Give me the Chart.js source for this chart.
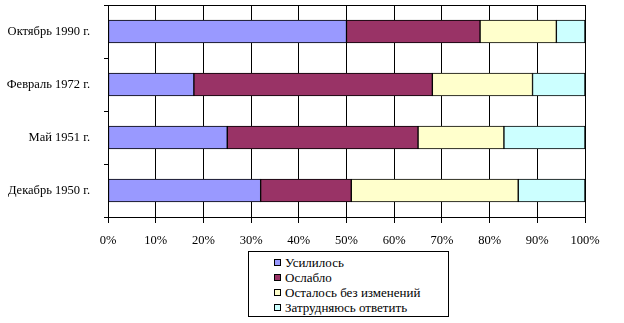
<!DOCTYPE html>
<html>
<head>
<meta charset="utf-8">
<script src="https://cdn.jsdelivr.net/npm/chart.js@4/dist/chart.umd.min.js"></script>
<style>
  html, body { margin: 0; padding: 0; background: #fff; }
  #wrap { position: relative; width: 624px; height: 323px; }
  #chart { position: absolute; left: 0; top: 0; }
  #legend {
    position: absolute; left: 248px; top: 251px; width: 201px; height: 66px;
    box-sizing: border-box; border: 1px solid #000; background: #fff;
    font-family: "Liberation Serif", "Times New Roman", serif; font-size: 13px; color: #000;
    padding-top: 3px;
  }
  #legend .item { position: relative; height: 15px; line-height: 15px; padding-left: 36px; white-space: nowrap; }
  #legend .swatch {
    position: absolute; left: 25px; top: 4px; width: 5px; height: 5px;
    border: 1px solid #000;
  }
</style>
</head>
<body>
<div id="wrap">
  <canvas id="chart" width="624" height="323"></canvas>
  <div id="legend"></div>
</div>
<script>
// Survey periods, top to bottom
const categories = ['Октябрь 1990 г.', 'Февраль 1972 г.', 'Май 1951 г.', 'Декабрь 1950 г.'];

// Answer shares, % of respondents
const strengthened = [50, 18, 25, 32];   // Усилилось
const weakened     = [28, 50, 40, 19];   // Ослабло
const unchanged    = [16, 21, 18, 35];   // Осталось без изменений
const hardToSay    = [6, 11, 17, 14];    // Затрудняюсь ответить

const seriesNames = ['Усилилось', 'Ослабло', 'Осталось без изменений', 'Затрудняюсь ответить'];
const seriesData = [strengthened, weakened, unchanged, hardToSay];
const seriesColors = ['#9999FF', '#993366', '#FFFFCC', '#CCFFFF'];

const FONT = '"Liberation Serif", "Times New Roman", serif';

// Thin frame line along the top of the plot area
const topFrame = {
  id: 'topFrame',
  beforeDatasetsDraw(chart) {
    const { ctx, chartArea: a } = chart;
    ctx.save();
    ctx.strokeStyle = '#000';
    ctx.lineWidth = 1;
    ctx.beginPath();
    ctx.moveTo(a.left, Math.round(a.top) + 0.5);
    ctx.lineTo(a.right + 0.5, Math.round(a.top) + 0.5);
    ctx.stroke();
    ctx.restore();
  }
};

const chart = new Chart(document.getElementById('chart'), {
  type: 'bar',
  data: {
    labels: categories,
    datasets: seriesNames.map((name, i) => ({
      label: name,
      data: seriesData[i],
      backgroundColor: seriesColors[i],
      borderColor: '#000',
      borderWidth: 1,
      borderSkipped: false,
      barThickness: 23
    }))
  },
  options: {
    indexAxis: 'y',
    responsive: false,
    animation: false,
    layout: { padding: { top: 5, right: 39, left: 0, bottom: 0 } },
    plugins: {
      legend: { display: false },
      tooltip: { enabled: false }
    },
    scales: {
      x: {
        stacked: true,
        min: 0,
        max: 100,
        ticks: {
          stepSize: 10,
          color: '#000',
          font: { family: FONT, size: 12.5 },
          padding: 10,
          callback: v => v + '%'
        },
        grid: { color: '#000', lineWidth: 1, tickLength: 6 },
        border: { color: '#000', width: 1 },
        afterFit(scale) { scale.height = 106; }
      },
      y: {
        stacked: true,
        ticks: {
          color: '#000',
          font: { family: FONT, size: 12.5 },
          padding: 14
        },
        grid: { offset: true, drawOnChartArea: false, color: '#000', tickLength: 4 },
        border: { color: '#000', width: 1 },
        afterFit(scale) {
          scale.width = 108;
          scale.paddingTop = 0;
          scale.paddingBottom = 0;
        }
      }
    }
  },
  plugins: [topFrame]
});

// Legend box built from the dataset names and colours
const legend = document.getElementById('legend');
seriesNames.forEach((name, i) => {
  const row = document.createElement('div');
  row.className = 'item';
  const sw = document.createElement('span');
  sw.className = 'swatch';
  sw.style.background = seriesColors[i];
  row.appendChild(sw);
  row.appendChild(document.createTextNode(name));
  legend.appendChild(row);
});
</script>
</body>
</html>
